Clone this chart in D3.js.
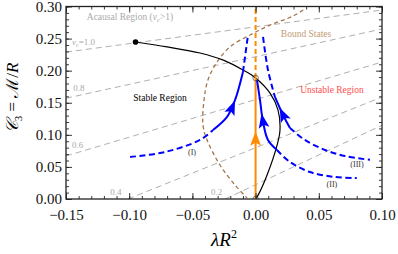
<!DOCTYPE html>
<html><head><meta charset="utf-8">
<script src="https://cdn.jsdelivr.net/npm/d3@7"></script>
<style>body{margin:0;background:#fff}svg{display:block}
svg text{font-family:"Liberation Serif","DejaVu Serif","Times New Roman",serif;}</style>
</head><body><svg id="c" width="398" height="254"></svg>
<script>
// ---------- data ----------
const xTicks = [-0.15, -0.10, -0.05, 0.00, 0.05, 0.10];
const yTicks = [0.00, 0.05, 0.10, 0.15, 0.20, 0.25, 0.30];
const vcNames = ["1.0", "0.8", "0.6", "0.4", "0.2"];
const vc10 = [[-0.15, 0.229], [0.10, 0.2945]];
const vc08 = [[-0.15, 0.157], [0.10, 0.265]];
const vc06 = [[-0.15, 0.067], [0.10, 0.2135]];
const vc04 = [[-0.101, 0.0], [0.10, 0.159]];
const vc02 = [[-0.024, 0.0], [0.10, 0.115]];
const boundary = [[-0.095,0.2447],[-0.07,0.237],[-0.044,0.2275],[-0.025,0.216],[-0.010,0.201],[0.0,0.1886],[0.0114,0.165],[0.0177,0.139],[0.0193,0.1075],[0.017,0.084],[0.009,0.037],[0.002,0.006],[0,0]];
const endDot = [-0.095, 0.2447];
const openPts = [[0, 0.1886], [0, 0.0]];
const boundStates = [[0.0377,0.2945],[0.0296,0.285],[0.0114,0.271],[-0.0044,0.2556],[-0.0203,0.237],[-0.0305,0.2135],[-0.0377,0.1854],[-0.0408,0.154],[-0.0416,0.115],[-0.0384,0.092],[-0.0282,0.053],[-0.0163,0.0218],[-0.0068,0.0016]];
const orangeSolid = [[0, 0.0], [0, 0.1886]];
const orangeDash = [[0, 0.1886], [0, 0.30]];
const b1Dash = [[-0.0993,0.0655],[-0.0717,0.0732],[-0.044,0.092],[-0.0337,0.1075]];
const b1Solid = [[-0.0337,0.1075],[-0.0226,0.128],[-0.0163,0.154],[-0.0100,0.198]];
const b1Top = [[-0.0100,0.198],[-0.006,0.2556]];
const b2Solid = [[0.0169,0.0764],[0.0098,0.092],[0.0059,0.12],[0.0035,0.154],[0.0011,0.1854]];
const b2Dash = [[0.0169,0.0764],[0.0272,0.0577],[0.043,0.042],[0.0628,0.0343],[0.080,0.0327]];
const b3Top = [[0.0059,0.2525],[0.0098,0.201],[0.0153,0.159]];
const b3Solid = [[0.0272,0.1106],[0.0217,0.131],[0.0153,0.159]];
const b3Dash = [[0.0272,0.1106],[0.039,0.092],[0.055,0.0764],[0.0707,0.067],[0.0905,0.061]];

// ---------- setup ----------
const svg = d3.select("#c");
const x = d3.scaleLinear().domain([-0.15, 0.10]).range([66, 382]);
const y = d3.scaleLinear().domain([0, 0.30]).range([199, 6.5]);
const line = d3.line().x(d => x(d[0])).y(d => y(d[1]));
const smooth = d3.line().x(d => x(d[0])).y(d => y(d[1])).curve(d3.curveCatmullRom.alpha(0.5));
const plot = svg.append("g");
plot.append("clipPath").attr("id","clip").append("rect")
  .attr("x",66).attr("y",6.5).attr("width",316).attr("height",192.5);
const g = plot.append("g").attr("clip-path","url(#clip)");

[vc10, vc08, vc06, vc04, vc02].forEach(l => {
  g.append("path").attr("d", line(l)).attr("fill","none")
    .attr("stroke","#a6a6a6").attr("stroke-width",0.9).attr("stroke-dasharray","6,4");
});

g.append("path").attr("d", smooth(boundStates)).attr("fill","none")
  .attr("stroke","#a5744a").attr("stroke-width",1.3).attr("stroke-dasharray","4,3");

g.append("path").attr("d", smooth(boundary)).attr("fill","none")
  .attr("stroke","#000").attr("stroke-width",1.2);

function arrowAt(path, frac, color, size) {
  const node = path.node();
  const L = node.getTotalLength();
  const p = node.getPointAtLength(L * frac);
  const q = node.getPointAtLength(Math.min(L, L * frac + 1));
  const ang = Math.atan2(q.y - p.y, q.x - p.x) * 180 / Math.PI;
  const s = size;
  g.append("path")
    .attr("d", `M${s*0.6},0 L${-s*0.6},${-s*0.45} L${-s*0.35},0 L${-s*0.6},${s*0.45} Z`)
    .attr("transform", `translate(${p.x},${p.y}) rotate(${ang})`)
    .attr("fill", color);
}

const oS = g.append("path").attr("d", line(orangeSolid)).attr("fill","none")
  .attr("stroke","#ff8c00").attr("stroke-width",2);
g.append("path").attr("d", line(orangeDash)).attr("fill","none")
  .attr("stroke","#ff8c00").attr("stroke-width",2).attr("stroke-dasharray","5,3");
arrowAt(oS, 0.5, "#ff8c00", 12);

const blue = "#0000ff";
function bl(data, dashed) {
  const p = g.append("path").attr("d", smooth(data)).attr("fill","none")
    .attr("stroke", blue).attr("stroke-width", 2);
  if (dashed) p.attr("stroke-dasharray","6,3.5");
  return p;
}
bl(b1Dash, true); const s1 = bl(b1Solid, false); bl(b1Top, true);
const s2 = bl(b2Solid, false); bl(b2Dash, true);
bl(b3Top, true); const s3 = bl(b3Solid, false); bl(b3Dash, true);
arrowAt(s1, 0.45, blue, 12);
arrowAt(s2, 0.45, blue, 12);
arrowAt(s3, 0.45, blue, 12);

g.append("circle").attr("cx", x(endDot[0])).attr("cy", y(endDot[1])).attr("r", 2.8).attr("fill","#000");
openPts.forEach(p => g.append("circle").attr("cx", x(p[0])).attr("cy", y(p[1])).attr("r", 2.8)
  .attr("fill","none").attr("stroke","#333").attr("stroke-width",0.6));

function txt(t, lx, ly, anchor, color, size) {
  return svg.append("text").attr("x", x(lx)).attr("y", y(ly)).attr("text-anchor", anchor)
    .attr("fill", color).attr("font-size", size).text(t);
}
const ac = txt("Acausal Region (", -0.0994, 0.279, "middle", "#aaaaaa", 9.5);
ac.append("tspan").attr("font-style","italic").text("v");
ac.append("tspan").attr("font-size",6.5).attr("dy",2).attr("font-style","italic").text("c");
ac.append("tspan").attr("dy",-2).text(">1)");
const v1 = txt("", -0.1452, 0.240, "start", "#aaaaaa", 9);
v1.append("tspan").attr("font-style","italic").text("v");
v1.append("tspan").attr("font-size",6).attr("dy",2).attr("font-style","italic").text("c");
v1.append("tspan").attr("dy",-2).text("=" + vcNames[0]);
txt(vcNames[1], -0.1442, 0.168, "start", "#aaaaaa", 9);
txt(vcNames[2], -0.1452, 0.0795, "start", "#aaaaaa", 9);
txt(vcNames[3], -0.115, 0.006, "start", "#aaaaaa", 9);
txt(vcNames[4], -0.0353, 0.006, "start", "#aaaaaa", 9);
txt("Stable Region", -0.0756, 0.1527, "middle", "#000", 9.5);
txt("Unstable Region", 0.0604, 0.165, "middle", "#ff4d4d", 9.5);
txt("Bound States", 0.0399, 0.2525, "middle", "#c39b73", 9.5);
txt("(I)", -0.0503, 0.0686, "middle", "#333", 8);
txt("(II)", 0.0604, 0.0187, "middle", "#333", 8);
txt("(III)", 0.0802, 0.050, "middle", "#333", 8);

const fmt = d3.format(".2f");
const minorX = d3.range(-15, 11).map(i => i / 100);
const minorY = d3.range(0, 31).map(i => i / 100);
function styleAxis(sel) {
  sel.select(".domain").remove();
  sel.selectAll("line").attr("stroke","#222").attr("stroke-width",0.9);
  sel.selectAll("text").attr("font-size", 15).attr("fill","#111");
}
svg.append("g").attr("transform","translate(0,199)")
  .call(d3.axisBottom(x).tickValues(xTicks).tickFormat(fmt).tickSize(-6).tickPadding(10)).call(styleAxis);
svg.append("g").attr("transform","translate(0,199)")
  .call(d3.axisBottom(x).tickValues(minorX).tickFormat("").tickSize(-3)).call(styleAxis);
svg.append("g").attr("transform","translate(0,6.5)")
  .call(d3.axisTop(x).tickValues(xTicks).tickFormat("").tickSize(-6)).call(styleAxis);
svg.append("g").attr("transform","translate(0,6.5)")
  .call(d3.axisTop(x).tickValues(minorX).tickFormat("").tickSize(-3)).call(styleAxis);
svg.append("g").attr("transform","translate(66,0)")
  .call(d3.axisLeft(y).tickValues(yTicks).tickFormat(fmt).tickSize(-6).tickPadding(4)).call(styleAxis);
svg.append("g").attr("transform","translate(66,0)")
  .call(d3.axisLeft(y).tickValues(minorY).tickFormat("").tickSize(-3)).call(styleAxis);
svg.append("g").attr("transform","translate(382,0)")
  .call(d3.axisRight(y).tickValues(yTicks).tickFormat("").tickSize(-6)).call(styleAxis);
svg.append("g").attr("transform","translate(382,0)")
  .call(d3.axisRight(y).tickValues(minorY).tickFormat("").tickSize(-3)).call(styleAxis);
svg.append("rect").attr("x",66).attr("y",6.5).attr("width",316).attr("height",192.5)
  .attr("fill","none").attr("stroke","#222").attr("stroke-width",1.3);

const xl = svg.append("text").attr("x", 224).attr("y", 246).attr("text-anchor","middle")
  .attr("font-size", 19).attr("font-style","italic").text("λR");
xl.append("tspan").attr("font-size", 12).attr("dy", -8).attr("font-style","normal").text("2");
const yl = svg.append("text").attr("transform","translate(18,98) rotate(-90)").attr("text-anchor","middle")
  .attr("font-size", 17);
yl.append("tspan").attr("font-style","italic").text("𝒞");
yl.append("tspan").attr("font-size", 11).attr("dy", 4).text("3");
yl.append("tspan").attr("dy", -4).text(" = ");
yl.append("tspan").text("ℳ");
yl.append("tspan").text("/");
yl.append("tspan").attr("font-style","italic").text("R");
</script></body></html>
